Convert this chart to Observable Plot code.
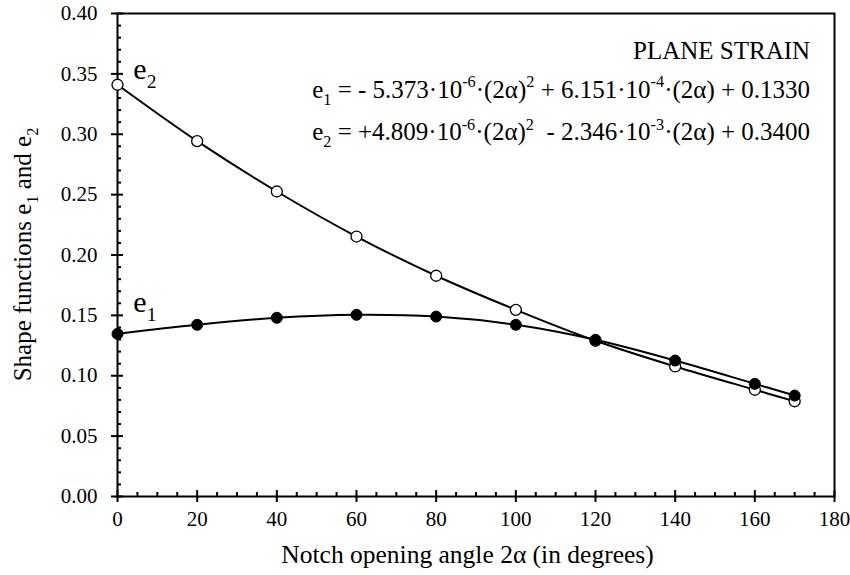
<!DOCTYPE html>
<html><head><meta charset="utf-8">
<script src="https://cdn.jsdelivr.net/npm/d3@7"></script>
<script src="https://cdn.jsdelivr.net/npm/@observablehq/plot@0.6"></script>
<style>body{margin:0;background:#fff}</style>
</head><body><div id="chart"></div>
<script>
// Data
const angles = [0, 20, 40, 60, 80, 100, 120, 140, 160, 170];
const e1Values = [0.1347, 0.1422, 0.1480, 0.1505, 0.1490, 0.1422, 0.1298, 0.1126, 0.0933, 0.0836];
const e2Values = [0.3410, 0.2943, 0.2526, 0.2153, 0.1828, 0.1546, 0.1290, 0.1077, 0.0884, 0.0789];
const xTickLabels = [0, 20, 40, 60, 80, 100, 120, 140, 160, 180];
const yTickLabels = [0, 0.05, 0.10, 0.15, 0.20, 0.25, 0.30, 0.35, 0.40];
const xMinorTicks = d3.range(0, 181, 5).filter(v => v % 20 !== 0);
const yMinorTicks = d3.range(0, 41, 1).filter(v => v % 5 !== 0).map(v => v / 100);

const rowsE1 = angles.map((a, i) => ({angle: a, value: e1Values[i]}));
const rowsE2 = angles.map((a, i) => ({angle: a, value: e2Values[i]}));

const FONT = '"Liberation Serif", "Times New Roman", serif';

const chart = Plot.plot({
  width: 850, height: 575,
  marginLeft: 117, marginRight: 16, marginTop: 13, marginBottom: 79,
  style: {fontFamily: FONT, fontSize: "21px", background: "white", color: "black"},
  x: {domain: [0, 180]},
  y: {domain: [0, 0.4]},
  marks: [
    Plot.axisX({ticks: xTickLabels, tickSize: 0, tickPadding: 15, tickFormat: d => String(d), label: null}),
    Plot.axisX({ticks: xTickLabels, tickSize: 12, dy: -6, tickFormat: () => "", label: null, strokeWidth: 2}),
    Plot.axisX({ticks: xMinorTicks, tickSize: 4, dy: -4, tickFormat: () => "", label: null, strokeWidth: 2}),
    Plot.axisY({ticks: yTickLabels, tickSize: 0, tickPadding: 20, tickFormat: d3.format(".2f"), label: null}),
    Plot.axisY({ticks: yTickLabels, tickSize: 12, dx: 6, tickFormat: () => "", label: null, strokeWidth: 2}),
    Plot.axisY({ticks: yMinorTicks, tickSize: 4, dx: 4, tickFormat: () => "", label: null, strokeWidth: 2}),
    Plot.frame({stroke: "black", strokeWidth: 2}),
    Plot.line(rowsE2, {x: "angle", y: "value", curve: "catmull-rom", stroke: "black", strokeWidth: 2}),
    Plot.dot(rowsE2, {x: "angle", y: "value", r: 5.5, fill: "white", stroke: "black", strokeWidth: 1.3}),
    Plot.line(rowsE1, {x: "angle", y: "value", curve: "catmull-rom", stroke: "black", strokeWidth: 2}),
    Plot.dot(rowsE1, {x: "angle", y: "value", r: 5.5, fill: "black", stroke: "black", strokeWidth: 1})
  ]
});

document.getElementById("chart").append(chart);

const sx = chart.scale("x"), sy = chart.scale("y");
const svg = d3.select(chart);
const g = svg.append("g").attr("font-family", FONT).attr("fill", "black").style("white-space", "pre");

function rich(parent, parts, size) {
  const t = parent.append("text").attr("font-size", size);
  let shift = 0;
  for (const [s, kind] of parts) {
    const target = kind === "sup" ? -0.42 * size : kind === "sub" ? 0.28 * size : 0;
    const ts = t.append("tspan").text(s).attr("dy", target - shift);
    if (kind) ts.attr("font-size", size * 0.65);
    shift = target;
  }
  return t;
}

// Annotations (positions through the scales)
const tx = sx.apply(174);
g.append("text").attr("x", tx).attr("y", sy.apply(0.362)).attr("text-anchor", "end").attr("font-size", 25).text("PLANE STRAIN");
rich(g, [["e"], ["1", "sub"], [" = - 5.373·10"], ["-6", "sup"], ["·(2α)"], ["2", "sup"], [" + 6.151·10"], ["-4", "sup"], ["·(2α) + 0.1330"]], 25)
  .attr("x", tx).attr("y", sy.apply(0.3297)).attr("text-anchor", "end");
rich(g, [["e"], ["2", "sub"], [" = +4.809·10"], ["-6", "sup"], ["·(2α)"], ["2", "sup"], ["  - 2.346·10"], ["-3", "sup"], ["·(2α) + 0.3400"]], 25)
  .attr("x", tx).attr("y", sy.apply(0.2948)).attr("text-anchor", "end");

rich(g, [["e"], ["2", "sub"]], 30).attr("x", sx.apply(7)).attr("y", sy.apply(0.345));
rich(g, [["e"], ["1", "sub"]], 30).attr("x", sx.apply(7)).attr("y", sy.apply(0.152));

// Axis titles
g.append("text").attr("x", (sx.apply(0) + sx.apply(180)) / 2 - 8).attr("y", 563)
  .attr("text-anchor", "middle").attr("font-size", 25.5).text("Notch opening angle 2α (in degrees)");
rich(g, [["Shape functions e"], ["1", "sub"], [" and e"], ["2", "sub"]], 25)
  .attr("text-anchor", "middle")
  .attr("transform", `translate(31,${(sy.apply(0) + sy.apply(0.4)) / 2}) rotate(-90)`);
</script>
</body></html>
